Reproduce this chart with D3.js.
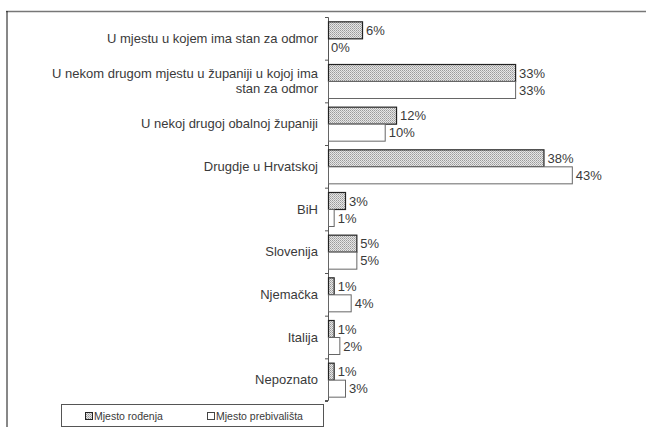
<!DOCTYPE html>
<html><head><meta charset="utf-8">
<script src="https://cdn.jsdelivr.net/npm/d3@7"></script>
<style>body{margin:0;background:#fff}svg{display:block}text{font-family:"Liberation Sans",Arial,sans-serif}</style>
</head><body>
<svg id="c" width="646" height="427"></svg>
<script>
const categories = [
  ["U mjestu u kojem ima stan za odmor"],
  ["U nekom drugom mjestu u županiji u kojoj ima", "stan za odmor"],
  ["U nekoj drugoj obalnoj županiji"],
  ["Drugdje u Hrvatskoj"],
  ["BiH"],
  ["Slovenija"],
  ["Njemačka"],
  ["Italija"],
  ["Nepoznato"]
];
const seriesNames = ["Mjesto rođenja", "Mjesto prebivališta"];
const birthPlace = [6, 33, 12, 38, 3, 5, 1, 1, 1];
const residence = [0, 33, 10, 43, 1, 5, 4, 2, 3];

const svg = d3.select("#c");
const defs = svg.append("defs");
const pat = defs.append("pattern").attr("id","hatch").attr("patternUnits","userSpaceOnUse")
  .attr("width",2).attr("height",2);
pat.append("rect").attr("width",2).attr("height",2).attr("fill","#e6e6e6");
pat.append("rect").attr("width",1).attr("height",1).attr("fill","#9a9a9a");
pat.append("rect").attr("x",1).attr("y",1).attr("width",1).attr("height",1).attr("fill","#b4b4b4");

// frame
svg.append("line").attr("x1",6).attr("x2",646).attr("y1",11.5).attr("y2",11.5).attr("stroke","#777").attr("stroke-width",1.5);
svg.append("line").attr("x1",7).attr("x2",7).attr("y1",11).attr("y2",427).attr("stroke","#111").attr("stroke-width",1);

const x0 = 328;
const x = d3.scaleLinear().domain([0, 50]).range([x0, x0 + 283.5]);
const yPos = d3.scaleLinear().domain([0, categories.length]).range([17, 401]);
const bandStep = yPos(1) - yPos(0);
const barH = 17;

const yAxis = d3.axisLeft(yPos).ticks(9).tickSize(3).tickFormat("");
const ag = svg.append("g").attr("transform",`translate(${x0},0)`).call(yAxis);
ag.select(".domain").attr("stroke","#555").attr("d","M-3,17.5H0.5V400.5H-3");
ag.selectAll(".tick line").attr("stroke","#555");

// category labels
categories.forEach((lines,i)=>{
  const cy = yPos(i + 0.5);
  const t = svg.append("text").attr("x",318).attr("text-anchor","end").attr("font-size",13).attr("fill","#3a3a3a");
  const n = lines.length;
  lines.forEach((l,j)=>{
    t.append("tspan").attr("x",318).attr("y", cy + (j - (n-1)/2)*15.5 + 4.5).text(l);
  });
});

const series = [birthPlace, residence];
series.forEach((vals, s)=>{
  const g = svg.append("g");
  vals.forEach((v,i)=>{
    const yy = yPos(i) + (bandStep - 2*barH)/2 + s*barH;
    if (v > 0) {
      g.append("rect").attr("x",x(0)+0.5).attr("y",yy+0.5).attr("width",x(v)-x(0)).attr("height",barH)
        .attr("fill", s===0 ? "url(#hatch)" : "#fff")
        .attr("stroke", s===0 ? "#222" : "#666").attr("stroke-width", s===0?1.2:1);
    }
    g.append("text").attr("x", x(v)+ (v>0?4:3)).attr("y", yy+barH/2+5).attr("font-size",13).attr("fill","#3a3a3a").text(v+"%");
  });
});

// legend
const lg = svg.append("g");
lg.append("rect").attr("x",61.5).attr("y",404.5).attr("width",262).attr("height",22).attr("fill","#fff").attr("stroke","#555");
[[85,"url(#hatch)","#222"],[207,"#fff","#444"]].forEach((d,i)=>{
  lg.append("rect").attr("x",d[0]+0.5).attr("y",412.5).attr("width",7).attr("height",7).attr("fill",d[1]).attr("stroke",d[2]);
  lg.append("text").attr("x",d[0]+9).attr("y",420).attr("font-size",10.5).attr("fill","#3a3a3a").text(seriesNames[i]);
});
</script>
</body></html>
